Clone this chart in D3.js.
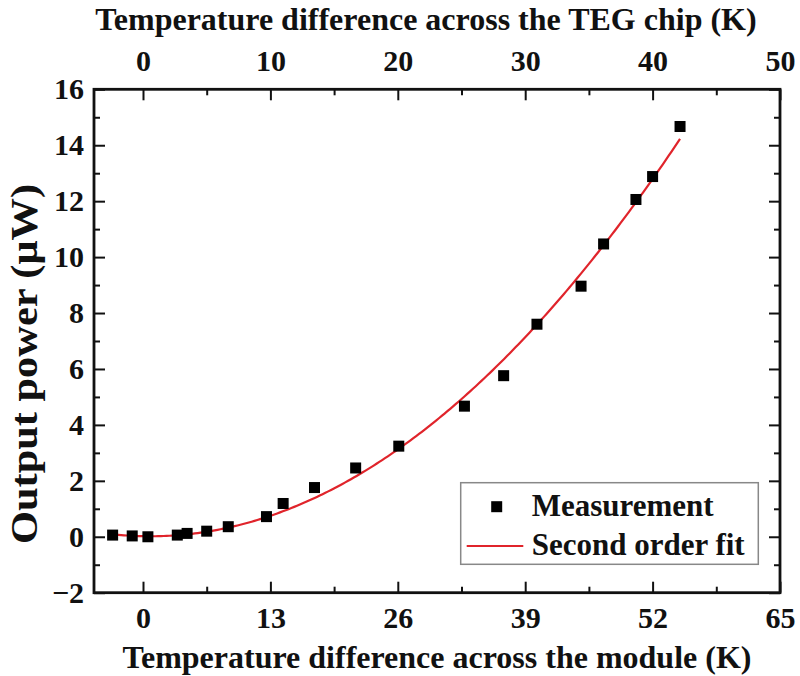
<!DOCTYPE html>
<html>
<head>
<meta charset="utf-8">
<script src="https://cdn.jsdelivr.net/npm/d3@7"></script>
<style>
  html, body { margin: 0; padding: 0; background: #fff; }
  svg text { font-family: "Liberation Serif", "Times New Roman", serif; font-weight: bold; fill: #111; }
</style>
</head>
<body>
<svg id="chart" width="800" height="676"></svg>
<script>
// ---- data ----
const moduleDT = [-3.1, -1.1, 0.5, 3.5, 4.5, 6.5, 8.7, 12.6, 14.3, 17.5, 21.7, 26.1, 32.8, 36.8, 40.2, 44.7, 47.0, 50.3, 52.0, 54.8];
const powerUW  = [0.06, 0.03, 0.0, 0.06, 0.12, 0.2, 0.36, 0.72, 1.19, 1.76, 2.46, 3.24, 4.67, 5.76, 7.6, 8.96, 10.47, 12.06, 12.88, 14.67];
// second order fit coefficients  y = a*x^2 + b*x + c
const fitCoefficients = [0.004859, -0.00702, 0.02];

const bottomTicks = [0, 13, 26, 39, 52, 65];
const bottomMinor = [6.5, 19.5, 32.5, 45.5, 58.5];
const topTicks = [0, 10, 20, 30, 40, 50];
const topMinor = [5, 15, 25, 35, 45];
const yTicks = [-2, 0, 2, 4, 6, 8, 10, 12, 14, 16];
const yMinor = [-1, 1, 3, 5, 7, 9, 11, 13, 15];

const xTitle = "Temperature difference across the module (K)";
const topTitle = "Temperature difference across the TEG chip (K)";
const yTitle = "Output power (μW)";
const legendLabels = ["Measurement", "Second order fit"];

// ---- layout ----
const L = 94, R = 780, T = 89.3, B = 592.7;
const svg = d3.select("#chart");

const x = d3.scaleLinear().domain([-5, 65]).range([L, R]);
const xTop = d3.scaleLinear().domain([-5 * 50 / 65, 50]).range([L, R]);
const y = d3.scaleLinear().domain([-2, 16]).range([B, T]);

const MAJ = 11, MIN = 6;
const axisColor = "#111";

function styleAxis(g) {
  g.select(".domain").remove();
  g.selectAll(".tick line").attr("stroke", axisColor).attr("stroke-width", 2);
  g.selectAll("text").attr("font-size", 30).attr("fill", "#111")
    .attr("font-family", "'Liberation Serif', 'Times New Roman', serif").attr("font-weight", "bold");
}

// bottom
svg.append("g").attr("transform", `translate(0,${B})`)
  .call(d3.axisBottom(x).tickValues(bottomTicks).tickSize(-MAJ).tickPadding(14).tickFormat(d3.format("d")))
  .call(styleAxis);
svg.append("g").attr("transform", `translate(0,${B})`)
  .call(d3.axisBottom(x).tickValues(bottomMinor).tickSize(-MIN).tickFormat(""))
  .call(styleAxis);
// top
svg.append("g").attr("transform", `translate(0,${T})`)
  .call(d3.axisTop(xTop).tickValues(topTicks).tickSize(-MAJ).tickPadding(18).tickFormat(d3.format("d")))
  .call(styleAxis);
svg.append("g").attr("transform", `translate(0,${T})`)
  .call(d3.axisTop(xTop).tickValues(topMinor).tickSize(-MIN).tickFormat(""))
  .call(styleAxis);
// left
svg.append("g").attr("transform", `translate(${L},0)`)
  .call(d3.axisLeft(y).tickValues(yTicks).tickSize(-MAJ).tickPadding(10).tickFormat(d3.format("d")))
  .call(styleAxis);
svg.append("g").attr("transform", `translate(${L},0)`)
  .call(d3.axisLeft(y).tickValues(yMinor).tickSize(-MIN).tickFormat(""))
  .call(styleAxis);
// right
svg.append("g").attr("transform", `translate(${R},0)`)
  .call(d3.axisRight(y).tickValues(yTicks).tickSize(-MAJ).tickFormat(""))
  .call(styleAxis);
svg.append("g").attr("transform", `translate(${R},0)`)
  .call(d3.axisRight(y).tickValues(yMinor).tickSize(-MIN).tickFormat(""))
  .call(styleAxis);

// frame
svg.append("rect").attr("x", L).attr("y", T).attr("width", R - L).attr("height", B - T)
  .attr("fill", "none").attr("stroke", axisColor).attr("stroke-width", 2.8);

// fit curve
const [a, b, c] = fitCoefficients;
const xMin = d3.min(moduleDT), xMax = d3.max(moduleDT);
const fitPts = d3.range(0, 201).map(i => {
  const xv = xMin + (xMax - xMin) * i / 200;
  return [xv, a * xv * xv + b * xv + c];
});
svg.append("path").datum(fitPts)
  .attr("fill", "none").attr("stroke", "#e0242b").attr("stroke-width", 2.2)
  .attr("d", d3.line().x(d => x(d[0])).y(d => y(d[1])));

// points
const S = 11;
svg.append("g").selectAll("rect").data(moduleDT.map((v, i) => [v, powerUW[i]])).join("rect")
  .attr("x", d => x(d[0]) - S / 2).attr("y", d => y(d[1]) - S / 2)
  .attr("width", S).attr("height", S).attr("fill", "#000");

// titles
svg.append("text").attr("x", 437).attr("y", 668).attr("text-anchor", "middle")
  .attr("font-size", 32).text(xTitle);
svg.append("text").attr("x", 426).attr("y", 30).attr("text-anchor", "middle")
  .attr("font-size", 32).text(topTitle);
svg.append("text").attr("transform", "translate(37,364) rotate(-90)").attr("text-anchor", "middle")
  .attr("font-size", 37).attr("textLength", 360).attr("lengthAdjust", "spacingAndGlyphs").text(yTitle);

// legend
const lg = svg.append("g");
lg.append("rect").attr("x", 460.7).attr("y", 482.7).attr("width", 297.6).attr("height", 81.6)
  .attr("fill", "#fff").attr("stroke", "#888").attr("stroke-width", 1.5);
lg.append("rect").attr("x", 496.7 - S / 2).attr("y", 506.7 - S / 2).attr("width", S).attr("height", S).attr("fill", "#000");
lg.append("text").attr("x", 531.7).attr("y", 515.5).attr("font-size", 31).text(legendLabels[0]);
lg.append("line").attr("x1", 466.7).attr("x2", 523.3).attr("y1", 546).attr("y2", 546)
  .attr("stroke", "#e0242b").attr("stroke-width", 2.2);
lg.append("text").attr("x", 531.7).attr("y", 554.5).attr("font-size", 31).text(legendLabels[1]);
</script>
</body>
</html>
